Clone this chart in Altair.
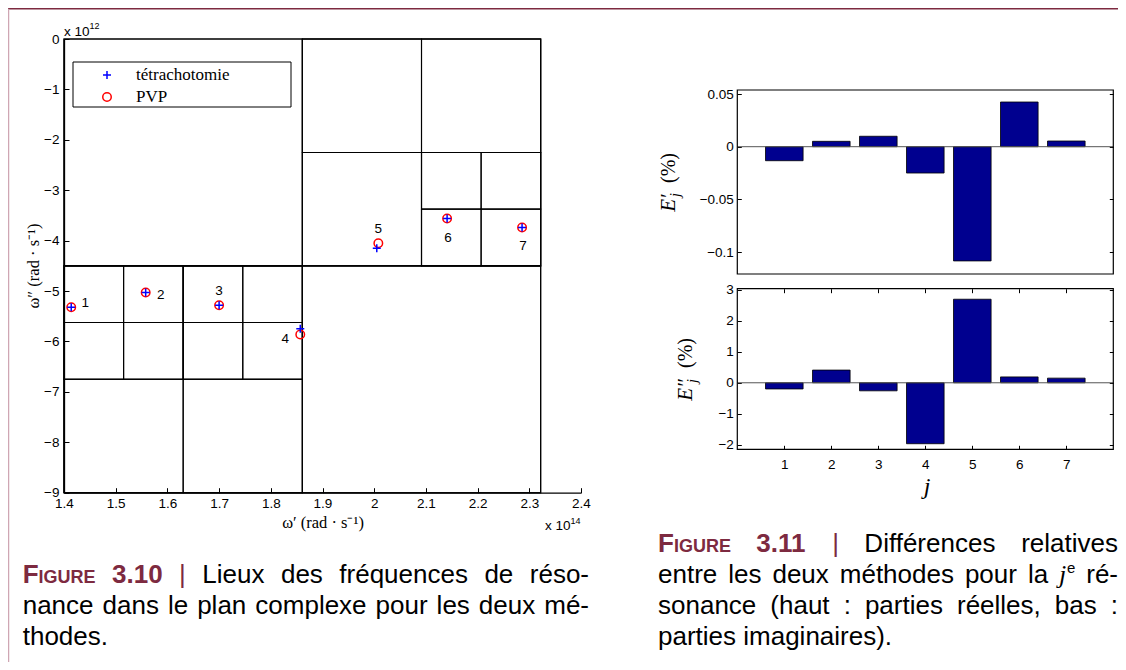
import altair as alt
import pandas as pd

# ----------------------------------------------------------------- data
res_index = [1, 2, 3, 4, 5, 6, 7]
tetra_re = [1.414, 1.558, 1.700, 1.857, 2.005, 2.141, 2.286]   # x 1e14 rad/s
tetra_im = [-5.32, -5.03, -5.28, -5.75, -4.15, -3.56, -3.74]   # x 1e12 rad/s
pvp_re = [1.414, 1.558, 1.700, 1.857, 2.008, 2.141, 2.286]
pvp_im = [-5.32, -5.03, -5.28, -5.86, -4.05, -3.56, -3.74]
err_real = [-0.0133, 0.0051, 0.0099, -0.0250, -0.1084, 0.0424, 0.0054]   # %
err_imag = [-0.20, 0.41, -0.26, -1.97, 2.70, 0.19, 0.15]                # %

# tetrachotomy boxes (x 1e14, x 1e12)
box_x1 = [1.4,
          1.4, 1.861, 1.4, 1.861,
          1.861, 2.0915, 1.861, 2.0915,
          1.4, 1.6305, 1.4, 1.6305,
          2.0915, 2.2068, 2.0915, 2.2068,
          1.4, 1.5153, 1.4, 1.5153,
          1.6305, 1.7458, 1.6305, 1.7458]
box_x2 = [2.322,
          1.861, 2.322, 1.861, 2.322,
          2.0915, 2.322, 2.0915, 2.322,
          1.6305, 1.861, 1.6305, 1.861,
          2.2068, 2.322, 2.2068, 2.322,
          1.5153, 1.6305, 1.5153, 1.6305,
          1.7458, 1.861, 1.7458, 1.861]
box_y1 = [-9,
          -4.5, -4.5, -9, -9,
          -2.25, -2.25, -4.5, -4.5,
          -6.75, -6.75, -9, -9,
          -3.375, -3.375, -4.5, -4.5,
          -5.625, -5.625, -6.75, -6.75,
          -5.625, -5.625, -6.75, -6.75]
box_y2 = [0,
          0, 0, -4.5, -4.5,
          0, 0, -2.25, -2.25,
          -4.5, -4.5, -6.75, -6.75,
          -2.25, -2.25, -3.375, -3.375,
          -4.5, -4.5, -5.625, -5.625,
          -4.5, -4.5, -5.625, -5.625]

x_ticks_plane = [1.4, 1.5, 1.6, 1.7, 1.8, 1.9, 2.0, 2.1, 2.2, 2.3, 2.4]
y_ticks_plane = [0, -1, -2, -3, -4, -5, -6, -7, -8, -9]
y_ticks_real = [0.05, 0, -0.05, -0.1]
y_ticks_imag = [3, 2, 1, 0, -1, -2]
x_ticks_bars = [1, 2, 3, 4, 5, 6, 7]

plane_domain_x = [1.4, 2.4]
plane_domain_y = [-9, 0]
bars_domain_x = [0, 8]
real_domain_y = [-0.1208, 0.0538]
imag_domain_y = [-2.15, 3.04]

legend_labels = ["tétrachotomie", "PVP"]
title_plane_x = "ω′ (rad · s⁻¹)"
title_plane_y = "ω″ (rad · s⁻¹)"

caption_left = [
    ["FIGURE", "3.10", "|", "Lieux", "des", "fréquences", "de", "réso-"],
    ["nance", "dans", "le", "plan", "complexe", "pour", "les", "deux", "mé-"],
    ["thodes."],
]
caption_right = [
    ["FIGURE", "3.11", "|", "Différences", "relatives"],
    ["entre", "les", "deux", "méthodes", "pour", "la", "jᵉ", "ré-"],
    ["sonance", "(haut", ":", "parties", "réelles,", "bas", ":"],
    ["parties", "imaginaires)."],
]

# ----------------------------------------------------------------- style / layout
W, H = 1110, 654
SANS = "Liberation Sans"
SERIF = "Liberation Serif"
MAROON = "#7d2a40"
PINK = "#cfa6b3"
NAVY = "#00008f"
PLUS = "M-1,0L1,0M0,-1L0,1"
TICK_FS = 13.5


def P(v):
    return v - 8  # page pixel -> chart pixel


sx_plane = alt.Scale(domain=plane_domain_x, range=[P(64), P(581)], nice=False, zero=False)
sy_plane = alt.Scale(domain=plane_domain_y, range=[P(492.7), P(39)], nice=False, zero=False)
sx_bars = alt.Scale(domain=bars_domain_x, range=[P(737.3), P(1113.3)], nice=False, zero=False)
sy_real = alt.Scale(domain=real_domain_y, range=[P(274), P(90)], nice=False, zero=False)
sy_imag = alt.Scale(domain=imag_domain_y, range=[P(449.3), P(288.7)], nice=False, zero=False)


def _offset(orient, pos):
    return {"left": -pos, "right": pos - W, "top": -pos, "bottom": pos - H}[orient]


def label_axis(orient, pos, values, pad, domain=True):
    return alt.Axis(orient=orient, offset=_offset(orient, pos), values=values, format="~g",
                    ticks=False, domain=domain, domainColor="black", domainWidth=1.3,
                    labelFont=SANS, labelFontSize=TICK_FS, labelColor="black", labelPadding=pad,
                    labelFlush=False, labelOverlap=False, labelBound=False, grid=False, title=None)


def tick_axis(orient, pos, values, size=5):
    return alt.Axis(orient=orient, offset=_offset(orient, pos), values=values, labels=False,
                    ticks=True, tickSize=size, tickColor="black", tickWidth=1,
                    domain=False, grid=False, title=None)


# ----------------------------------------------------------------- complex plane
box_df = pd.DataFrame({"x1": box_x1, "x2": box_x2, "y1": box_y1, "y2": box_y2})
pts_df = pd.DataFrame({"j": res_index, "tre": tetra_re, "tim": tetra_im,
                       "pre": pvp_re, "pim": pvp_im})

boxes = alt.Chart(box_df).mark_rect(fillOpacity=0, stroke="black", strokeWidth=1.1).encode(
    x=alt.X("x1:Q", scale=sx_plane, axis=label_axis("bottom", P(492.7), x_ticks_plane, 4)),
    x2="x2:Q",
    y=alt.Y("y1:Q", scale=sy_plane, axis=label_axis("left", P(64), y_ticks_plane, 5)),
    y2="y2:Q",
)
circles = alt.Chart(pts_df).mark_point(shape="circle", size=72, filled=False, color="#ff0000",
                                       strokeWidth=1.5, opacity=1).encode(
    x=alt.X("pre:Q", scale=sx_plane, axis=None),
    y=alt.Y("pim:Q", scale=sy_plane, axis=None),
)
pluses = alt.Chart(pts_df).mark_point(shape=PLUS, size=64, filled=False, color="#0000ff",
                                      strokeWidth=1.5, opacity=1).encode(
    x=alt.X("tre:Q", scale=sx_plane, axis=tick_axis("top", P(492.7), x_ticks_plane)),
    y=alt.Y("tim:Q", scale=sy_plane, axis=tick_axis("right", P(64), y_ticks_plane)),
)
label_offsets = [(14, -4), (15, 2), (0, -14), (-15, 5), (0, -14), (1, 20), (1, 18)]
point_labels = []
for i, (ddx, ddy) in enumerate(label_offsets):
    point_labels.append(
        alt.Chart(pts_df.iloc[[i]]).mark_text(dx=ddx, dy=ddy, font=SANS, fontSize=13.5,
                                             color="black").encode(
            x=alt.X("pre:Q", scale=sx_plane, axis=None),
            y=alt.Y("pim:Q", scale=sy_plane, axis=None),
            text="j:N",
        )
    )

legend_df = pd.DataFrame({"k": [0]})
legend_box = alt.Chart(legend_df).mark_rect(fill="white", stroke="black", strokeWidth=1).encode(
    x=alt.value(P(73)), x2=alt.value(P(291)), y=alt.value(P(62)), y2=alt.value(P(107)))
legend_plus = alt.Chart(legend_df).mark_point(shape=PLUS, size=64, filled=False, color="#0000ff",
                                               strokeWidth=1.5, opacity=1).encode(
    x=alt.value(P(107)), y=alt.value(P(75)))
legend_circ = alt.Chart(legend_df).mark_point(shape="circle", size=72, filled=False, color="#ff0000",
                                               strokeWidth=1.5, opacity=1).encode(
    x=alt.value(P(107)), y=alt.value(P(97)))

plane = alt.layer(boxes, circles, pluses, *point_labels).resolve_axis(x="independent", y="independent")

# ----------------------------------------------------------------- bar charts
bars_df = pd.DataFrame({"j": res_index, "re": err_real, "im": err_imag})
bars_df["lo"] = bars_df["j"] - 0.4
bars_df["hi"] = bars_df["j"] + 0.4
bars_df["base"] = 0.0

frame_real = pd.DataFrame({"x1": [bars_domain_x[0]], "x2": [bars_domain_x[1]],
                           "y1": [real_domain_y[0]], "y2": [real_domain_y[1]], "base": [0.0]})
frame_imag = pd.DataFrame({"x1": [bars_domain_x[0]], "x2": [bars_domain_x[1]],
                           "y1": [imag_domain_y[0]], "y2": [imag_domain_y[1]], "base": [0.0]})

XL, XR = P(737.3), P(1113.3)

bars_real = alt.Chart(bars_df).mark_rect(color=NAVY, stroke="black", strokeWidth=0.8).encode(
    x=alt.X("lo:Q", scale=sx_bars, axis=None), x2="hi:Q",
    y=alt.Y("re:Q", scale=sy_real, axis=label_axis("left", XL, y_ticks_real, 4, domain=False)),
    y2="base:Q",
)
zero_real = alt.Chart(frame_real).mark_rule(color="#555555", strokeWidth=1).encode(
    x=alt.X("x1:Q", scale=sx_bars, axis=None), x2="x2:Q",
    y=alt.Y("base:Q", scale=sy_real, axis=tick_axis("left", XR, y_ticks_real, 4)),
)
box_real = alt.Chart(frame_real).mark_rect(fillOpacity=0, stroke="black", strokeWidth=1.2).encode(
    x=alt.X("x1:Q", scale=sx_bars, axis=None), x2="x2:Q",
    y=alt.Y("y1:Q", scale=sy_real, axis=tick_axis("right", XL, y_ticks_real, 4)), y2="y2:Q",
)
real_panel = alt.layer(bars_real, zero_real, box_real).resolve_axis(x="independent", y="independent")

YB, YT = P(449.3), P(288.7)
bars_imag = alt.Chart(bars_df).mark_rect(color=NAVY, stroke="black", strokeWidth=0.8).encode(
    x=alt.X("lo:Q", scale=sx_bars, axis=label_axis("bottom", YB, x_ticks_bars, 8, domain=False)),
    x2="hi:Q",
    y=alt.Y("im:Q", scale=sy_imag, axis=label_axis("left", XL, y_ticks_imag, 4, domain=False)),
    y2="base:Q",
)
zero_imag = alt.Chart(frame_imag).mark_rule(color="#555555", strokeWidth=1).encode(
    x=alt.X("x1:Q", scale=sx_bars, axis=tick_axis("bottom", YT, x_ticks_bars, 4)), x2="x2:Q",
    y=alt.Y("base:Q", scale=sy_imag, axis=tick_axis("left", XR, y_ticks_imag, 4)),
)
box_imag = alt.Chart(frame_imag).mark_rect(fillOpacity=0, stroke="black", strokeWidth=1.2).encode(
    x=alt.X("x1:Q", scale=sx_bars, axis=tick_axis("top", YB, x_ticks_bars, 4)), x2="x2:Q",
    y=alt.Y("y1:Q", scale=sy_imag, axis=tick_axis("right", XL, y_ticks_imag, 4)), y2="y2:Q",
)
imag_panel = alt.layer(bars_imag, zero_imag, box_imag).resolve_axis(x="independent", y="independent")

# ----------------------------------------------------------------- texts
AW = {" ": 278, "(": 333, ")": 333, ",": 278, "-": 333, ".": 278, ":": 278, "|": 260,
      "a": 556, "b": 556, "c": 500, "d": 556, "e": 556, "f": 278, "g": 556, "h": 556, "i": 222,
      "j": 222, "k": 500, "l": 222, "m": 833, "n": 556, "o": 556, "p": 556, "q": 556, "r": 333,
      "s": 500, "t": 278, "u": 556, "v": 500, "w": 722, "x": 500, "y": 500, "z": 500, "é": 556,
      "D": 722, "F": 611, "I": 278, "G": 778, "U": 722, "R": 722, "E": 667, "L": 556}


def runs_for(word):
    if word == "FIGURE":
        return [("F", SANS, "bold", "normal", 26, MAROON, 0),
                ("IGURE", SANS, "bold", "normal", 18, MAROON, 0)]
    if word in ("3.10", "3.11"):
        return [(word, SANS, "bold", "normal", 26, MAROON, 0)]
    if word == "|":
        return [(word, SANS, "normal", "normal", 26, MAROON, 0)]
    if word == "jᵉ":
        return [("j", SERIF, "normal", "italic", 26, "black", 0),
                ("e", SANS, "normal", "normal", 15, "black", -10)]
    return [(word, SANS, "normal", "normal", 26, "black", 0)]


def run_w(r):
    text, font, _, _, size, _, _ = r
    if font == SERIF:
        return 0.30 * size * len(text)
    return sum(AW.get(c, 556) for c in text) / 1000.0 * size


text_rows = []


def add(x, y, text, size, font=SANS, weight="normal", style="normal", color="black",
        align="left", baseline="alphabetic", angle=0):
    text_rows.append(dict(x=x, y=y, text=text, size=size, font=font, weight=weight, style=style,
                          color=color, align=align, baseline=baseline, angle=angle))


def caption(lines, left, right, baselines):
    for k, words in enumerate(lines):
        runs = [runs_for(w) for w in words]
        widths = [sum(run_w(r) for r in rs) for rs in runs]
        last = k == len(lines) - 1
        if last or len(words) == 1:
            gap = 0.278 * 26
        else:
            gap = (right - left - sum(widths)) / (len(words) - 1)
        x = left
        for rs, wdt in zip(runs, widths):
            xx = x
            for r in rs:
                add(xx, baselines[k] + r[6], r[0], r[4], font=r[1], weight=r[2], style=r[3],
                    color=r[5])
                xx += run_w(r)
            x += wdt + gap


caption(caption_left, P(22.7), P(589), [P(583), P(614), P(645)])
caption(caption_right, P(658), P(1118), [P(552), P(583), P(614), P(645)])

# complex-plane texts
add(P(64), P(31.5), "x 10", 13.5, baseline="middle")
add(P(64) + 25.5, P(26), "12", 9, baseline="middle")
add(P(545), P(526), "x 10", 13.5, baseline="middle")
add(P(545) + 25.5, P(520.5), "14", 9, baseline="middle")
add(P(323), P(523), title_plane_x, 16.5, font=SERIF, align="center", baseline="middle")
add(P(34), P(266), title_plane_y, 16.5, font=SERIF, align="center", baseline="middle", angle=270)
add(P(136), P(75), legend_labels[0], 17, font=SERIF, baseline="middle")
add(P(136), P(97), legend_labels[1], 17, font=SERIF, baseline="middle")

# bar-chart titles
add(P(669), P(203), "E′", 21, font=SERIF, style="italic", align="center", baseline="middle", angle=270)
add(P(676), P(195), "j", 14, font=SERIF, style="italic", align="center", baseline="middle", angle=270)
add(P(669), P(168), "(%)", 20, font=SERIF, align="center", baseline="middle", angle=270)
add(P(686), P(390), "E″", 21, font=SERIF, style="italic", align="center", baseline="middle", angle=270)
add(P(693), P(381), "j", 14, font=SERIF, style="italic", align="center", baseline="middle", angle=270)
add(P(686), P(353), "(%)", 20, font=SERIF, align="center", baseline="middle", angle=270)
add(P(927), P(487), "j", 24, font=SERIF, style="italic", align="center", baseline="middle")

text_df = pd.DataFrame(text_rows)
text_layers = []
for key, grp in text_df.groupby(["font", "weight", "style", "align", "baseline", "angle"]):
    font, weight, style, align, baseline, angle = key
    text_layers.append(
        alt.Chart(grp.reset_index(drop=True)).mark_text(
            font=font, fontWeight=weight, fontStyle=style, align=align, baseline=baseline,
            angle=float(angle)).encode(
            x=alt.X("x:Q", scale=None, axis=None),
            y=alt.Y("y:Q", scale=None, axis=None),
            text="text:N",
            size=alt.Size("size:Q", scale=None, legend=None),
            color=alt.Color("color:N", scale=None, legend=None),
        )
    )

page_df = pd.DataFrame({"k": [0]})
top_line = alt.Chart(page_df).mark_rule(color=MAROON, strokeWidth=1.5).encode(
    x=alt.value(0), x2=alt.value(W), y=alt.value(0.75))
left_line = alt.Chart(page_df).mark_rule(color=PINK, strokeWidth=1.3).encode(
    x=alt.value(0.6), y=alt.value(0.75), y2=alt.value(H))

chart = alt.layer(
    plane, real_panel, imag_panel, legend_box, legend_plus, legend_circ, top_line, left_line,
    *text_layers,
).resolve_scale(x="independent", y="independent").resolve_axis(
    x="independent", y="independent"
).properties(
    width=W, height=H, padding=0, autosize=alt.AutoSizeParams(type="none"), background="white"
).configure_view(stroke=None)

chart.save("out.html", embed_options={"renderer": "svg", "actions": False})
